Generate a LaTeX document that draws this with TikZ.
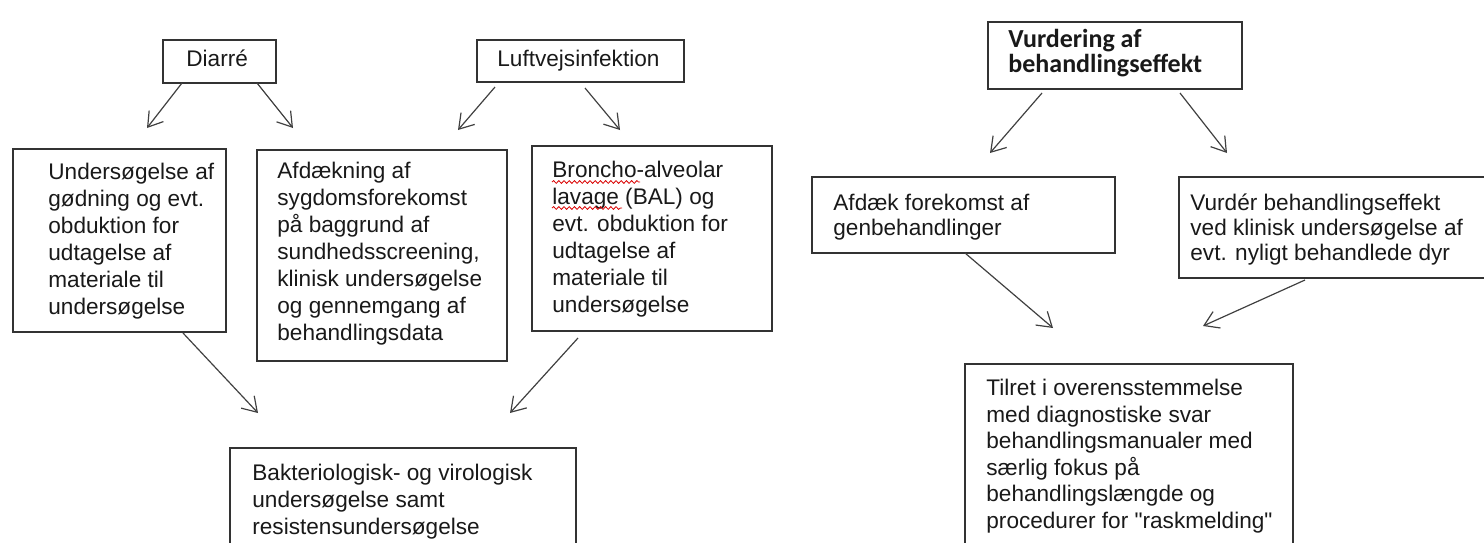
\documentclass[tikz,border=0pt]{standalone}
\usepackage{fontspec}
\setmainfont{Liberation Sans}[Ligatures=TeXOff]
\newfontfamily\headfont{Carlito}
\usetikzlibrary{positioning,arrows.meta,decorations.pathmorphing}

\newcommand{\topstrut}{\rule{0pt}{9pt}}

\begin{document}
\begin{tikzpicture}[x=0.5pt,y=-0.5pt,
	box/.style = {draw=black!80, line width=0.7pt, inner sep=0pt, outer sep=0pt, anchor=north west},
	txt/.style = {inner sep=0pt, align=left, text=black!90, font=\fontsize{11.3}{13.5}\selectfont},
	arr/.style = {-{Straight Barb[length=7pt,width=9pt]}, draw=black!75, line width=0.6pt},
	spell/.style = {draw=red!85!black, line width=0.4pt, decorate, decoration={snake, amplitude=0.7pt, segment length=2.6pt}}]

	\useasboundingbox (0,0) rectangle (1484,542);
	\clip (0,0) rectangle (1484,542);

	% left part
	\node[box, minimum width=56.5pt, minimum height=21.5pt] (diarre) at (163,40) {};
	\node[box, minimum width=103.5pt, minimum height=21pt] (luft) at (477,40) {};
	\node[box, minimum width=106.5pt, minimum height=91.5pt] (und) at (13,149) {};
	\node[box, minimum width=125pt, minimum height=105.5pt] (afd) at (257,150) {};
	\node[box, minimum width=120pt, minimum height=92.5pt] (bal) at (532,146) {};
	\node[box, minimum width=173pt, minimum height=80pt] (bakt) at (230,448) {};

	\node[txt, below right=4pt and 11.5pt of diarre.north west] (diarre-t) {\topstrut Diarré};
	\node[txt, below right=4pt and 10pt of luft.north west] (luft-t) {\topstrut Luftvejsinfektion};
	\node[txt, below right=6pt and 17.5pt of und.north west] (und-t) {\topstrut Undersøgelse af\\gødning og evt.\\obduktion for\\udtagelse af\\materiale til\\undersøgelse};
	\node[txt, below right=5pt and 10pt of afd.north west] (afd-t) {\topstrut Afdækning af\\sygdomsforekomst\\på baggrund af\\sundhedsscreening,\\klinisk undersøgelse\\og gennemgang af\\behandlingsdata};
	\node[txt, below right=6.5pt and 10pt of bal.north west] (bal-t) {\topstrut Broncho-alveolar\\lavage (BAL) og\\evt. obduktion for\\udtagelse af\\materiale til\\undersøgelse};
	\node[txt, below right=7pt and 11pt of bakt.north west] (bakt-t) {\topstrut Bakteriologisk- og virologisk\\undersøgelse samt\\resistensundersøgelse};

	\draw[spell] ([shift={(0,23)}]bal-t.north west) -- ++(88,0);
	\draw[spell] ([shift={(0,49)}]bal-t.north west) -- ++(70,0);

	\draw[arr] ([shift={(-37.5,0)}]diarre.south) -- ([shift={(27.5,-21)}]und.north);
	\draw[arr] ([shift={(37.5,0)}]diarre.south) -- ([shift={(36,-22)}]afd.north west);
	\draw[arr] ([shift={(-85.5,5)}]luft.south) -- ([shift={(-49,-20)}]afd.north east);
	\draw[arr] ([shift={(4.5,6)}]luft.south) -- ([shift={(88,-16)}]bal.north west);
	\draw[arr] ([shift={(63.5,1)}]und.south) -- ([shift={(28,-35)}]bakt.north west);
	\draw[arr] ([shift={(-74,7)}]bal.south) -- ([shift={(-66,-35)}]bakt.north east);

	% right part
	\node[box, minimum width=127pt, minimum height=33.5pt] (vurd) at (988,22) {};
	\node[box, minimum width=151.5pt, minimum height=38pt] (afdk) at (812,177) {};
	\node[box, minimum width=155.5pt, minimum height=50.5pt] (vurdr) at (1179,177) {};
	\node[box, minimum width=164pt, minimum height=100pt] (tilret) at (965,364) {};

	\node[txt, below right=2.5pt and 10pt of vurd.north west, font=\headfont\bfseries\fontsize{13}{12.5}\selectfont] (vurd-t) {\rule{0pt}{10pt}Vurdering af\\behandlingseffekt};
	\node[txt, below right=7.5pt and 10.5pt of afdk.north west, font=\fontsize{11.3}{12.5}\selectfont] (afdk-t) {\topstrut Afdæk forekomst af\\genbehandlinger};
	\node[txt, below right=7.5pt and 5.5pt of vurdr.north west, font=\fontsize{11.3}{12.5}\selectfont] (vurdr-t) {\topstrut Vurdér behandlingseffekt\\ved klinisk undersøgelse af\\evt. nyligt behandlede dyr};
	\node[txt, below right=6.5pt and 10.5pt of tilret.north west, font=\fontsize{11.3}{13.3}\selectfont] (tilret-t) {\topstrut Tilret i overensstemmelse\\med diagnostiske svar\\behandlingsmanualer med\\særlig fokus på\\behandlingslængde og\\procedurer for "raskmelding"};

	\draw[arr] ([shift={(-73,4)}]vurd.south) -- ([shift={(178,-24)}]afdk.north west);
	\draw[arr] ([shift={(65,4)}]vurd.south) -- ([shift={(48,-24)}]vurdr.north west);
	\draw[arr] ([shift={(1.5,0)}]afdk.south) -- ([shift={(88,-36)}]tilret.north west);
	\draw[arr] ([shift={(126,2)}]vurdr.south west) -- ([shift={(-90,-38)}]tilret.north east);
\end{tikzpicture}
\end{document}
